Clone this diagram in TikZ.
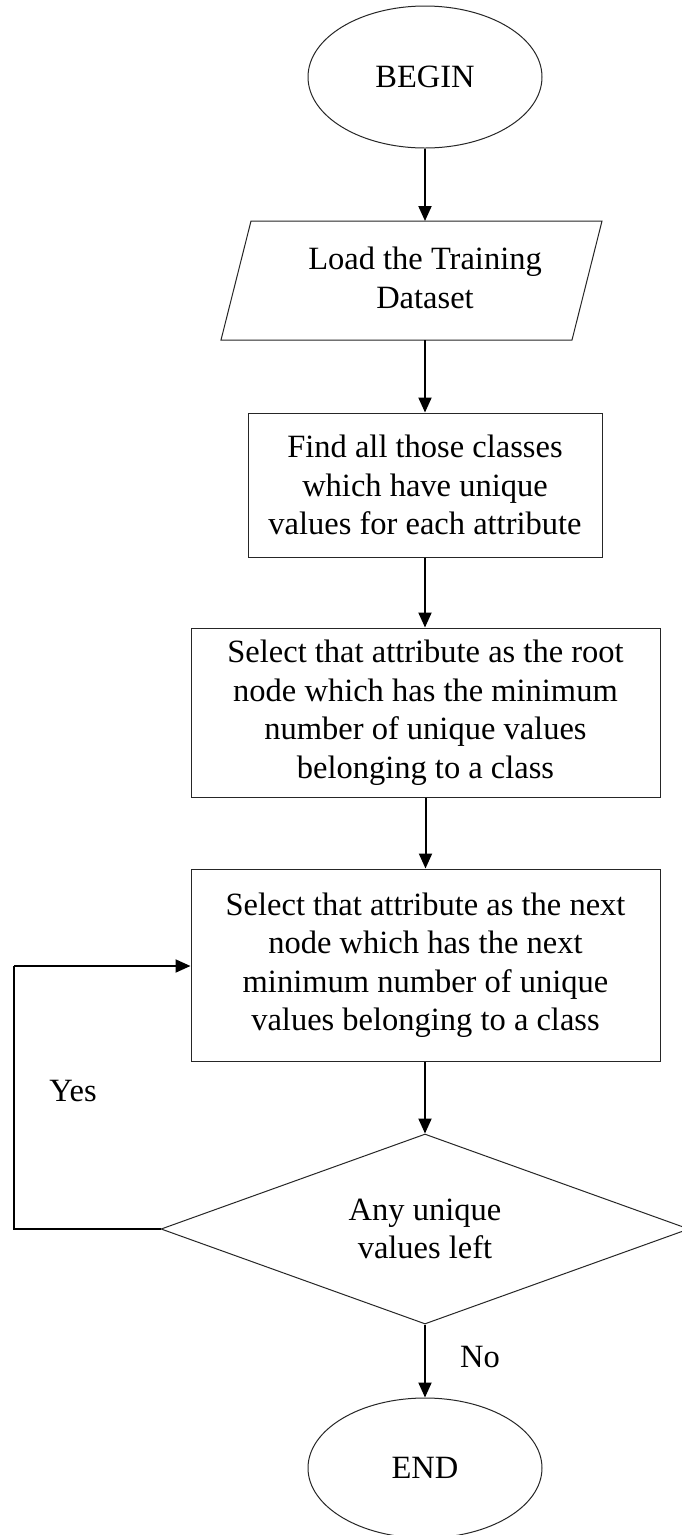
\documentclass[tikz,border=0pt]{standalone}
\usepackage{fontspec}
\setmainfont{Liberation Serif}
\usetikzlibrary{shapes.geometric,arrows.meta}
\begin{document}
\begin{tikzpicture}[x=1pt,y=-1pt,
  shapeline/.style={draw=black!85,line width=1pt},
  txt/.style={font=\fontsize{32.5}{38.5}\selectfont,align=center,inner sep=0pt},
  procbox/.style={shapeline,rectangle,txt},
  oval/.style={shapeline,ellipse,txt,minimum width=234pt,minimum height=142pt},
  flow/.style={draw=black,line width=2pt,-{Triangle[length=15pt,width=13pt]}},
  plain/.style={draw=black,line width=2pt}]
\useasboundingbox (0,0) rectangle (681,1535);
\fill[white] (0,0) rectangle (681,1535);

\node[oval] (begin) at (425,77) {BEGIN};

\draw[shapeline] (251,221) -- (602,221) -- (572,340) -- (221,340) -- cycle;
\node[txt,minimum width=200pt,minimum height=119pt] (load) at (425,278) {Load the Training\\Dataset};

\node[procbox,minimum width=354pt,minimum height=144pt] (find) at (425,485)
  {Find all those classes\\which have unique\\values for each attribute};

\node[procbox,minimum width=469pt,minimum height=169pt] (root) at (425.5,712.5)
  {Select that attribute as the root\\node which has the minimum\\number of unique values\\belonging to a class};

\node[procbox,minimum width=469pt,minimum height=192pt] (next) at (425.5,965)
  {Select that attribute as the next\\node which has the next\\minimum number of unique\\values belonging to a class};

\node[shapeline,diamond,aspect=2.78,txt,minimum width=528pt,minimum height=190pt] (dec) at (425,1229)
  {Any unique\\values left};

\node[oval,minimum height=140pt] (end) at (425,1468) {END};

\node[txt] (yes) at (73,1091) {Yes};
\node[txt] (no) at (480,1357) {No};

\coordinate (lb) at (14,1229);
\coordinate (lt) at (14,966);

\draw[flow] (begin.south) -- (begin.south |- 0,221);
\draw[flow] (425,340) -- (find.north);
\draw[flow] (find.south) -- (find.south |- root.north);
\draw[flow] (root.south -| next.north) -- (next.north);
\draw[flow] (next.south -| dec.north) -- (dec.north);
\draw[flow] (dec.south) -- (end.north);
\draw[plain] (dec.west) -- (lb) -- (lt);
\draw[flow] (lt) -- (lt -| next.west);
\end{tikzpicture}
\end{document}
